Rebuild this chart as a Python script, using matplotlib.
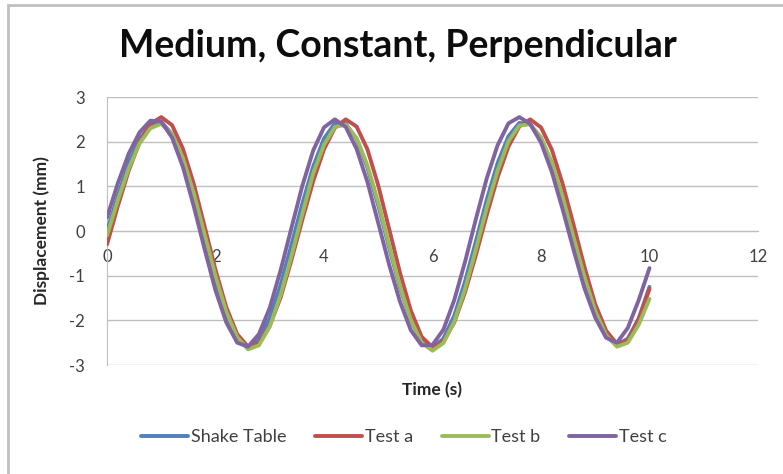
import matplotlib
matplotlib.use("Agg")
import matplotlib.pyplot as plt
from matplotlib.patches import Rectangle

plt.rcParams['font.family'] = ['Lato', 'DejaVu Sans']
plt.rcParams['axes.unicode_minus'] = False

time_s = [0.0, 0.2, 0.4, 0.6, 0.8, 1.0, 1.2, 1.4, 1.6, 1.8,
          2.0, 2.2, 2.4, 2.6, 2.8, 3.0, 3.2, 3.4, 3.6, 3.8,
          4.0, 4.2, 4.4, 4.6, 4.8, 5.0, 5.2, 5.4, 5.6, 5.8,
          6.0, 6.2, 6.4, 6.6, 6.8, 7.0, 7.2, 7.4, 7.6, 7.8,
          8.0, 8.2, 8.4, 8.6, 8.8, 9.0, 9.2, 9.4, 9.6, 9.8, 10.0]

shake_table = [0.00, 0.79, 1.52, 2.06, 2.37, 2.44, 2.17, 1.58, 0.75, -0.19,
               -1.12, -1.90, -2.42, -2.60, -2.43, -1.95, -1.21, -0.31, 0.61, 1.44,
               2.07, 2.41, 2.40, 2.06, 1.42, 0.57, -0.37, -1.27, -2.00, -2.48,
               -2.62, -2.41, -1.90, -1.13, -0.23, 0.70, 1.52, 2.12, 2.42, 2.39,
               2.04, 1.43, 0.62, -0.28, -1.15, -1.87, -2.36, -2.55, -2.41, -1.96, -1.25]

test_a = [-0.30, 0.56, 1.35, 1.99, 2.40, 2.55, 2.37, 1.84, 1.05, 0.10,
          -0.87, -1.71, -2.31, -2.59, -2.51, -2.12, -1.49, -0.65, 0.25, 1.11,
          1.83, 2.31, 2.50, 2.34, 1.83, 1.02, 0.05, -0.93, -1.78, -2.37,
          -2.60, -2.47, -2.05, -1.37, -0.54, 0.36, 1.20, 1.89, 2.34, 2.50,
          2.32, 1.82, 1.05, 0.14, -0.80, -1.64, -2.23, -2.53, -2.45, -1.98, -1.30]

test_b = [-0.10, 0.69, 1.40, 1.96, 2.30, 2.40, 2.17, 1.63, 0.84, -0.08,
          -1.01, -1.81, -2.38, -2.65, -2.56, -2.14, -1.43, -0.56, 0.38, 1.29,
          1.93, 2.33, 2.38, 2.08, 1.47, 0.64, -0.31, -1.23, -1.99, -2.50,
          -2.68, -2.51, -2.03, -1.30, -0.41, 0.52, 1.35, 2.01, 2.36, 2.39,
          2.10, 1.54, 0.76, -0.14, -1.02, -1.79, -2.33, -2.59, -2.50, -2.10, -1.52]

test_c = [0.30, 1.07, 1.73, 2.21, 2.47, 2.45, 2.09, 1.43, 0.55, -0.41,
          -1.33, -2.05, -2.50, -2.59, -2.31, -1.72, -0.88, 0.07, 1.01, 1.80,
          2.32, 2.50, 2.33, 1.84, 1.10, 0.18, -0.75, -1.58, -2.22, -2.56,
          -2.55, -2.21, -1.55, -0.69, 0.27, 1.18, 1.92, 2.41, 2.55, 2.40,
          1.98, 1.32, 0.48, -0.42, -1.28, -1.94, -2.39, -2.50, -2.17, -1.55, -0.83]

series_names = ["Shake Table", "Test a", "Test b", "Test c"]
series_colors = ["#4F81BD", "#C0504D", "#9BBB59", "#8064A2"]

x_ticks = [0, 2, 4, 6, 8, 10, 12]
y_ticks = [-3, -2, -1, 0, 1, 2, 3]

W, H = 783, 474
fig = plt.figure(figsize=(W / 100, H / 100), dpi=100)
fig.patch.set_facecolor("white")

ax = fig.add_axes([107 / W, 1 - 365 / H, (758 - 107) / W, (365 - 97) / H])

for name, vals, col in zip(series_names, [shake_table, test_a, test_b, test_c], series_colors):
    ax.plot(time_s, vals, color=col, lw=2.8, label=name, solid_capstyle="round",
            solid_joinstyle="round", zorder=3)

ax.set_xlim(0, 12)
ax.set_ylim(-3, 3)
ax.set_xticks(x_ticks)
ax.set_yticks(y_ticks)
ax.yaxis.grid(True, color="#BFBFBF", lw=1.0)
ax.set_axisbelow(True)

for s in ["top", "right"]:
    ax.spines[s].set_visible(False)
ax.spines["left"].set_color("#BFBFBF")
ax.spines["bottom"].set_position(("data", 0))
ax.spines["bottom"].set_color("#BFBFBF")
ax.tick_params(axis="both", colors="#BFBFBF", labelcolor="#404040", labelsize=12, length=0)
ax.tick_params(axis="x", pad=13)
ax.tick_params(axis="y", pad=16)

ax.set_xlabel("Time (s)", fontsize=12.5, fontweight="bold", color="#262626")
ax.xaxis.set_label_coords(0.5, -0.065)
ax.set_ylabel("Displacement (mm)", fontsize=12.5, fontweight="bold", color="#262626")
ax.yaxis.set_label_coords(-0.088, 0.5)

fig.text(398 / W, 1 - 46 / H, "Medium, Constant, Perpendicular", fontsize=27,
         fontweight="bold", ha="center", va="center", color="#0D0D0D")

leg = fig.legend(loc="center", bbox_to_anchor=(404 / W, 1 - 437 / H), ncol=4,
                 frameon=False, fontsize=13, handlelength=2.6, handletextpad=0.15,
                 columnspacing=1.6)
for t in leg.get_texts():
    t.set_color("#404040")

fig.patches.append(Rectangle((8 / W, -0.1), 1.2, 1 - 5 / H + 0.1, transform=fig.transFigure,
                             fill=False, edgecolor="#BFBFBF", lw=2.0))

fig.savefig("out.png", dpi=100)
